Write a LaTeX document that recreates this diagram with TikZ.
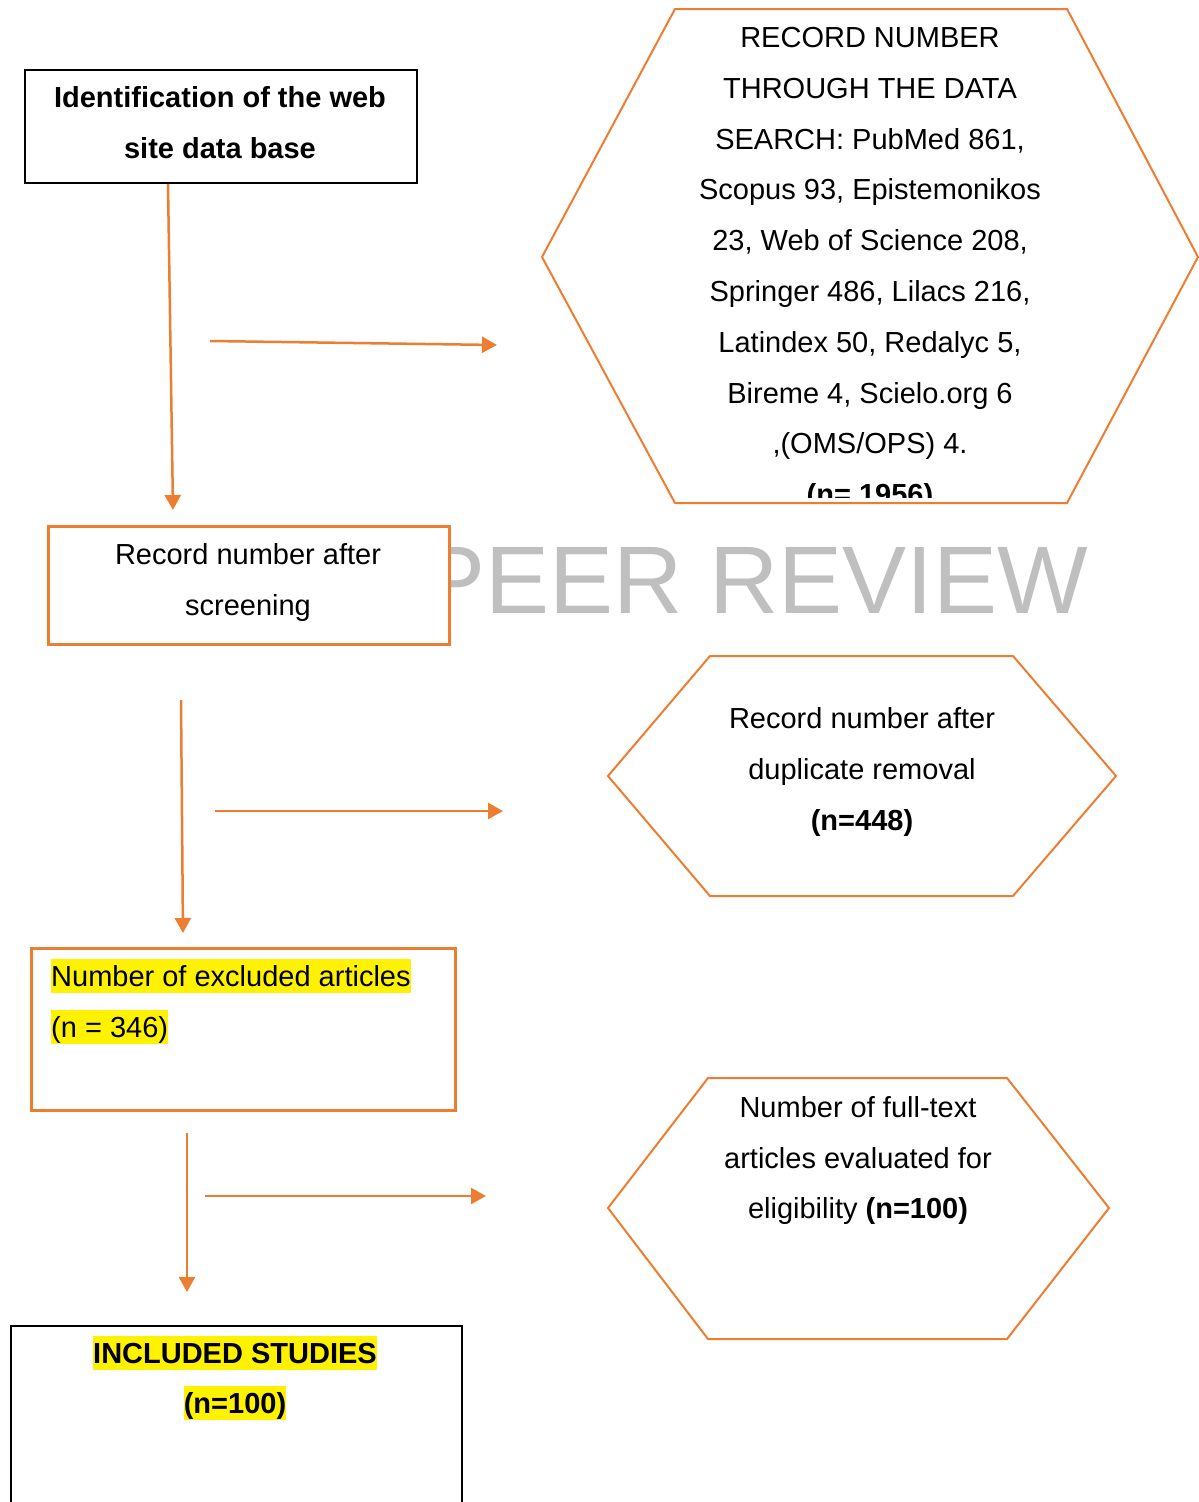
\documentclass[tikz,border=0pt]{standalone}
\usepackage{fontspec}
\setmainfont{Liberation Sans}
\usetikzlibrary{arrows.meta}
\definecolor{floworange}{RGB}{237,125,49}
\definecolor{wmgray}{RGB}{191,191,191}
\tikzset{
  txt/.style    = {inner sep=0pt, align=center,
    font=\fontsize{29}{50.8}\selectfont},
  hl/.style     = {inner sep=0pt, fill=yellow, text height=27pt, text depth=7pt,
    font=\fontsize{29}{50.8}\selectfont}, % highlighted line
  blkbox/.style = {draw=black, line width=2pt, fill=white, inner sep=0pt},
  orbox/.style  = {draw=floworange, line width=2.5pt, fill=white, inner sep=0pt},
  hexline/.style = {draw=floworange, line width=2pt, line join=miter},
  flow/.style   = {draw=floworange, line width=2.5pt,
    -{Triangle[length=15pt,width=16pt]}}
}

\begin{document}
\begin{tikzpicture}[x=1pt, y=-1pt]
\useasboundingbox (0,0) rectangle (1199,1502);
\clip (0,0) rectangle (1199,1502);

% watermark, partly hidden by the screening box
\node[font=\fontsize{96}{96}\selectfont, text=wmgray, inner sep=0pt, anchor=base east]
  (peer) at (1088,613) {PEER REVIEW};

% left column
\node[blkbox, minimum width=392pt, minimum height=113pt, anchor=north west] (ident) at (24,69) {};
\node[txt, font=\fontsize{29}{50.8}\selectfont\bfseries, anchor=north] (identtxt) at (220,86)
  {Identification of the web\\site data base};

\node[orbox, minimum width=401pt, minimum height=118pt, anchor=north west] (screen) at (47,525) {};
\node[txt, anchor=north] (screentxt) at (248,543.4) {Record number after\\screening};

\node[orbox, minimum width=424pt, minimum height=162pt, anchor=north west] (excl) at (30,947) {};
\node[hl, anchor=base west] (excl1) at (51,986) {Number of excluded articles};
\node[hl, anchor=base west] (excl2) at (51,1037) {(n = 346)};

\node[blkbox, minimum width=451pt, minimum height=260pt, anchor=north west] (incl) at (10,1325) {};
\node[hl, font=\fontsize{29}{50.8}\selectfont\bfseries, anchor=base] (incl1) at (235,1363) {INCLUDED STUDIES};
\node[hl, font=\fontsize{29}{50.8}\selectfont\bfseries, anchor=base] (incl2) at (235,1413) {(n=100)};

% right column (hexagons)
\draw[hexline] (675,9) -- (1067,9) -- (1198,257) -- (1067,503) -- (675,503) -- (542,257) -- cycle;
\begin{scope}
  \clip (542,0) rectangle (1199,497); % last line is cut off
  \node[txt, anchor=north] (search) at (870,27)
    {RECORD NUMBER\\THROUGH THE DATA\\SEARCH: PubMed 861,\\Scopus 93, Epistemonikos\\
     23, Web of Science 208,\\Springer 486, Lilacs 216,\\Latindex 50, Redalyc 5,\\
     Bireme 4, Scielo.org 6\\,(OMS/OPS) 4.\\\textbf{(n= 1956)}};
\end{scope}

\draw[hexline] (710,656) -- (1013,656) -- (1116,776) -- (1013,896) -- (710,896) -- (608,776) -- cycle;
\node[txt, anchor=north] (dupl) at (862,707.4)
  {Record number after\\duplicate removal\\\textbf{(n=448)}};

\draw[hexline] (708,1078) -- (1007,1078) -- (1109,1208) -- (1007,1339) -- (708,1339) -- (608,1208) -- cycle;
\node[txt, anchor=north] (fulltext) at (858,1096)
  {Number of full-text\\articles evaluated for\\eligibility \textbf{(n=100)}};

% arrows
\coordinate (d1s) at (168,184);  \coordinate (d1e) at (173,510);
\coordinate (r1s) at (210,341);  \coordinate (r1e) at (497,345);
\coordinate (d2s) at (181,700);  \coordinate (d2e) at (183,933);
\coordinate (r2s) at (215,811);  \coordinate (r2e) at (503,811);
\coordinate (d3s) at (187,1133); \coordinate (d3e) at (187,1292);
\coordinate (r3s) at (205,1196); \coordinate (r3e) at (486,1196);
\foreach \a in {d1,r1,d2,r2,d3,r3}
  \draw[flow] (\a s) -- (\a e);
\end{tikzpicture}
\end{document}
